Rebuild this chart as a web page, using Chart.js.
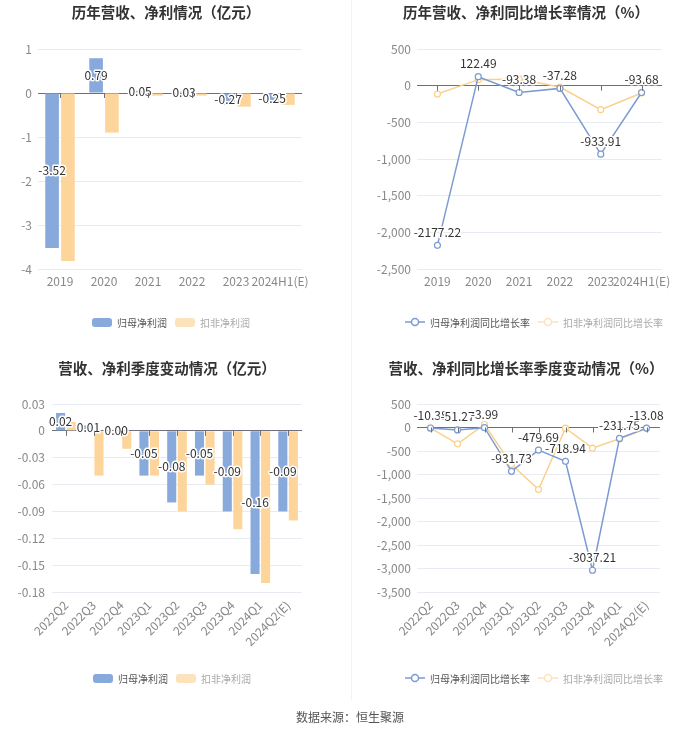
<!DOCTYPE html>
<html>
<head>
<meta charset="utf-8">
<script src="https://cdn.jsdelivr.net/npm/chart.js@4.4.1/dist/chart.umd.min.js"></script>
<style>
  body { margin: 0; background: #fff; font-family: "Noto Sans CJK SC", "Noto Sans", sans-serif; }
  #page { position: relative; width: 700px; height: 734px; overflow: hidden; }
  .panel { position: absolute; width: 350px; height: 355px; }
  .title { position: absolute; transform: translateX(-50%); white-space: nowrap;
           font-weight: bold; font-size: 14.5px; line-height: 18px; color: #333; }
  .legend { position: absolute; display: flex; align-items: center; height: 12px;
            font-size: 10px; white-space: nowrap; }
  .legend .box { width: 20px; height: 9px; border-radius: 3px; margin-right: 5px; }
  .legend svg { margin-right: 5px; }
  .legend .item { display: flex; align-items: center; margin-right: 8px; }
  #divider { position: absolute; left: 351px; top: 0; width: 1px; height: 700px; background: #f3f3f3; }
  #footer { position: absolute; top: 708px; width: 700px; text-align: center; font-size: 12px; color: #555; }
</style>
</head>
<body>
<div id="page">
  <div id="divider"></div>

  <div class="panel" style="left:0;top:0"><canvas id="c1"></canvas></div>
  <div class="panel" style="left:350px;top:0"><canvas id="c2"></canvas></div>
  <div class="panel" style="left:0;top:355px"><canvas id="c3"></canvas></div>
  <div class="panel" style="left:350px;top:355px"><canvas id="c4"></canvas></div>

  <div class="title" style="left:166px;top:3px">历年营收、净利情况（亿元）</div>
  <div class="title" style="left:526px;top:3px">历年营收、净利同比增长率情况（%）</div>
  <div class="title" style="left:167px;top:359px">营收、净利季度变动情况（亿元）</div>
  <div class="title" style="left:526px;top:359px">营收、净利同比增长率季度变动情况（%）</div>

  <div class="legend" style="left:92px;top:316px">
    <div class="item"><div class="box" style="background:#88a9db"></div><span style="color:#555">归母净利润</span></div>
    <div class="item"><div class="box" style="background:#fde3bc"></div><span style="color:#aaa">扣非净利润</span></div>
  </div>
  <div class="legend" style="left:405px;top:316px">
    <div class="item"><svg width="20" height="10"><line x1="0" y1="5" x2="20" y2="5" stroke="#7b9bd1" stroke-width="1.5"/><circle cx="10" cy="5" r="3.5" fill="#fff" stroke="#7b9bd1" stroke-width="1.5"/></svg><span style="color:#555">归母净利润同比增长率</span></div>
    <div class="item"><svg width="20" height="10"><line x1="0" y1="5" x2="20" y2="5" stroke="#fde3bc" stroke-width="1.5"/><circle cx="10" cy="5" r="3.5" fill="#fff" stroke="#fde3bc" stroke-width="1.5"/></svg><span style="color:#aaa">扣非净利润同比增长率</span></div>
  </div>
  <div class="legend" style="left:93px;top:672px">
    <div class="item"><div class="box" style="background:#88a9db"></div><span style="color:#555">归母净利润</span></div>
    <div class="item"><div class="box" style="background:#fde3bc"></div><span style="color:#aaa">扣非净利润</span></div>
  </div>
  <div class="legend" style="left:405px;top:672px">
    <div class="item"><svg width="20" height="10"><line x1="0" y1="5" x2="20" y2="5" stroke="#7b9bd1" stroke-width="1.5"/><circle cx="10" cy="5" r="3.5" fill="#fff" stroke="#7b9bd1" stroke-width="1.5"/></svg><span style="color:#555">归母净利润同比增长率</span></div>
    <div class="item"><svg width="20" height="10"><line x1="0" y1="5" x2="20" y2="5" stroke="#fde3bc" stroke-width="1.5"/><circle cx="10" cy="5" r="3.5" fill="#fff" stroke="#fde3bc" stroke-width="1.5"/></svg><span style="color:#aaa">扣非净利润同比增长率</span></div>
  </div>

  <div id="footer">数据来源：恒生聚源</div>
</div>

<script>
// 年度数据
const years = ['2019', '2020', '2021', '2022', '2023', '2024H1(E)'];
const netProfit = [-3.52, 0.79, 0.05, 0.03, -0.27, -0.25];
const deductedProfit = [-3.82, -0.90, -0.06, -0.06, -0.31, -0.27];
const netProfitGrowth = [-2177.22, 122.49, -93.38, -37.28, -933.91, -93.68];
const deductedGrowth = [-114, 82, 92, -18, -328, -100];

// 季度数据
const quarters = ['2022Q2', '2022Q3', '2022Q4', '2023Q1', '2023Q2', '2023Q3', '2023Q4', '2024Q1', '2024Q2(E)'];
const qNetProfit = [0.02, 0.006, 0.001, -0.05, -0.08, -0.05, -0.09, -0.16, -0.09];
const qDeductedProfit = [0.01, -0.05, -0.02, -0.05, -0.09, -0.06, -0.11, -0.17, -0.10];
const qNetProfitGrowth = [-10.38, -51.27, -3.99, -931.73, -479.69, -718.94, -3037.21, -231.75, -13.08];
const qDeductedGrowth = [-15, -347, 64, -788, -1320, -15, -440, -240, -20];

const BLUE = '#88a9db';
const ORANGE = '#fdd59b';
const BLUE_LINE = '#7b9bd1';
const ORANGE_LINE = '#fcd08b';
const FONT = '"Noto Sans CJK SC", "Noto Sans", sans-serif';

// 归母系列的数值标签
const valueLabels = {
  id: 'valueLabels',
  afterDatasetsDraw(chart) {
    const meta = chart.getDatasetMeta(0);
    const data = chart.data.datasets[0].data;
    const ctx = chart.ctx;
    ctx.save();
    ctx.font = '12px ' + FONT;
    ctx.textAlign = 'center';
    ctx.textBaseline = 'middle';
    ctx.lineJoin = 'round';
    meta.data.forEach((el, i) => {
      let x = el.x, y;
      if (chart.config.type === 'bar') {
        y = (el.y + el.base) / 2;
      } else {
        y = el.y - 13;
      }
      const txt = data[i].toFixed(2);
      ctx.strokeStyle = '#fff';
      ctx.lineWidth = 3;
      ctx.strokeText(txt, x, y);
      ctx.fillStyle = '#333';
      ctx.fillText(txt, x, y);
    });
    ctx.restore();
  }
};

// 零轴上的刻度短线
const zeroTicks = {
  id: 'zeroTicks',
  afterDraw(chart) {
    const x = chart.scales.x, y = chart.scales.y;
    const y0 = y.getPixelForValue(0);
    const ctx = chart.ctx;
    ctx.save();
    ctx.strokeStyle = '#6e7079';
    ctx.lineWidth = 1;
    for (let i = 0; i < chart.data.labels.length; i++) {
      const px = Math.round(x.getPixelForValue(i)) + 0.5;
      ctx.beginPath();
      ctx.moveTo(px, y0);
      ctx.lineTo(px, y0 + 5);
      ctx.stroke();
    }
    ctx.restore();
  }
};

function makeOptions(o) {
  return {
    responsive: true,
    maintainAspectRatio: false,
    animation: false,
    layout: { padding: { top: 49, left: 0, right: o.right, bottom: o.bottom } },
    plugins: { legend: { display: false }, title: { display: false }, tooltip: { enabled: false } },
    scales: {
      x: {
        offset: true,
        grid: { display: false, drawTicks: false },
        border: { display: false },
        ticks: {
          color: '#888', font: { size: 12, family: FONT }, padding: o.xPad,
          autoSkip: false, minRotation: o.rot, maxRotation: o.rot
        },
        afterFit: s => { s.height = o.xh; }
      },
      y: {
        min: o.min, max: o.max,
        grid: {
          drawTicks: false,
          color: c => c.tick && c.tick.value === 0 ? '#6e7079' : '#e8ebf1'
        },
        border: { display: false },
        ticks: {
          stepSize: o.step, color: '#888', font: { size: 12, family: FONT }, padding: o.yPad,
          callback: o.fmt
        },
        afterFit: s => { s.width = o.yw; }
      }
    }
  };
}

const fmtInt = v => Math.round(v).toLocaleString('en-US');
const fmtDec = v => (Math.abs(v) < 1e-9 ? '0' : v.toFixed(2));

function barChart(id, labels, a, b, opts, cat, bar) {
  return new Chart(document.getElementById(id), {
    type: 'bar',
    data: {
      labels: labels,
      datasets: [
        { label: '归母净利润', data: a, backgroundColor: BLUE, categoryPercentage: cat, barPercentage: bar },
        { label: '扣非净利润', data: b, backgroundColor: ORANGE, categoryPercentage: cat, barPercentage: bar }
      ]
    },
    options: makeOptions(opts),
    plugins: [zeroTicks, valueLabels]
  });
}

function lineChart(id, labels, a, b, opts) {
  const ds = (label, data, color) => ({
    label: label, data: data, borderColor: color, borderWidth: 1.5,
    pointRadius: 3, pointBorderWidth: 1.2, pointBackgroundColor: '#fff', pointBorderColor: color,
    tension: 0
  });
  return new Chart(document.getElementById(id), {
    type: 'line',
    data: {
      labels: labels,
      datasets: [ds('归母净利润同比增长率', a, BLUE_LINE), ds('扣非净利润同比增长率', b, ORANGE_LINE)]
    },
    options: makeOptions(opts),
    plugins: [zeroTicks, valueLabels]
  });
}

barChart('c1', years, netProfit, deductedProfit,
  { right: 48, bottom: 56, xh: 30, yw: 38, min: -4, max: 1, step: 1, xPad: 5, yPad: 6, rot: 0,
    fmt: v => String(v) }, 0.72, 0.86);

lineChart('c2', years, netProfitGrowth, deductedGrowth,
  { right: 38, bottom: 56, xh: 30, yw: 67, min: -2500, max: 500, step: 500, xPad: 5, yPad: 6, rot: 0,
    fmt: fmtInt });

barChart('c3', quarters, qNetProfit, qDeductedProfit,
  { right: 48, bottom: 58, xh: 60, yw: 52, min: -0.18, max: 0.03, step: 0.03, xPad: 6, yPad: 7, rot: 45,
    fmt: fmtDec }, 0.76, 0.86);

lineChart('c4', quarters, qNetProfitGrowth, qDeductedGrowth,
  { right: 40, bottom: 58, xh: 60, yw: 67, min: -3500, max: 500, step: 500, xPad: 6, yPad: 6, rot: 45,
    fmt: fmtInt });
</script>
</body>
</html>
